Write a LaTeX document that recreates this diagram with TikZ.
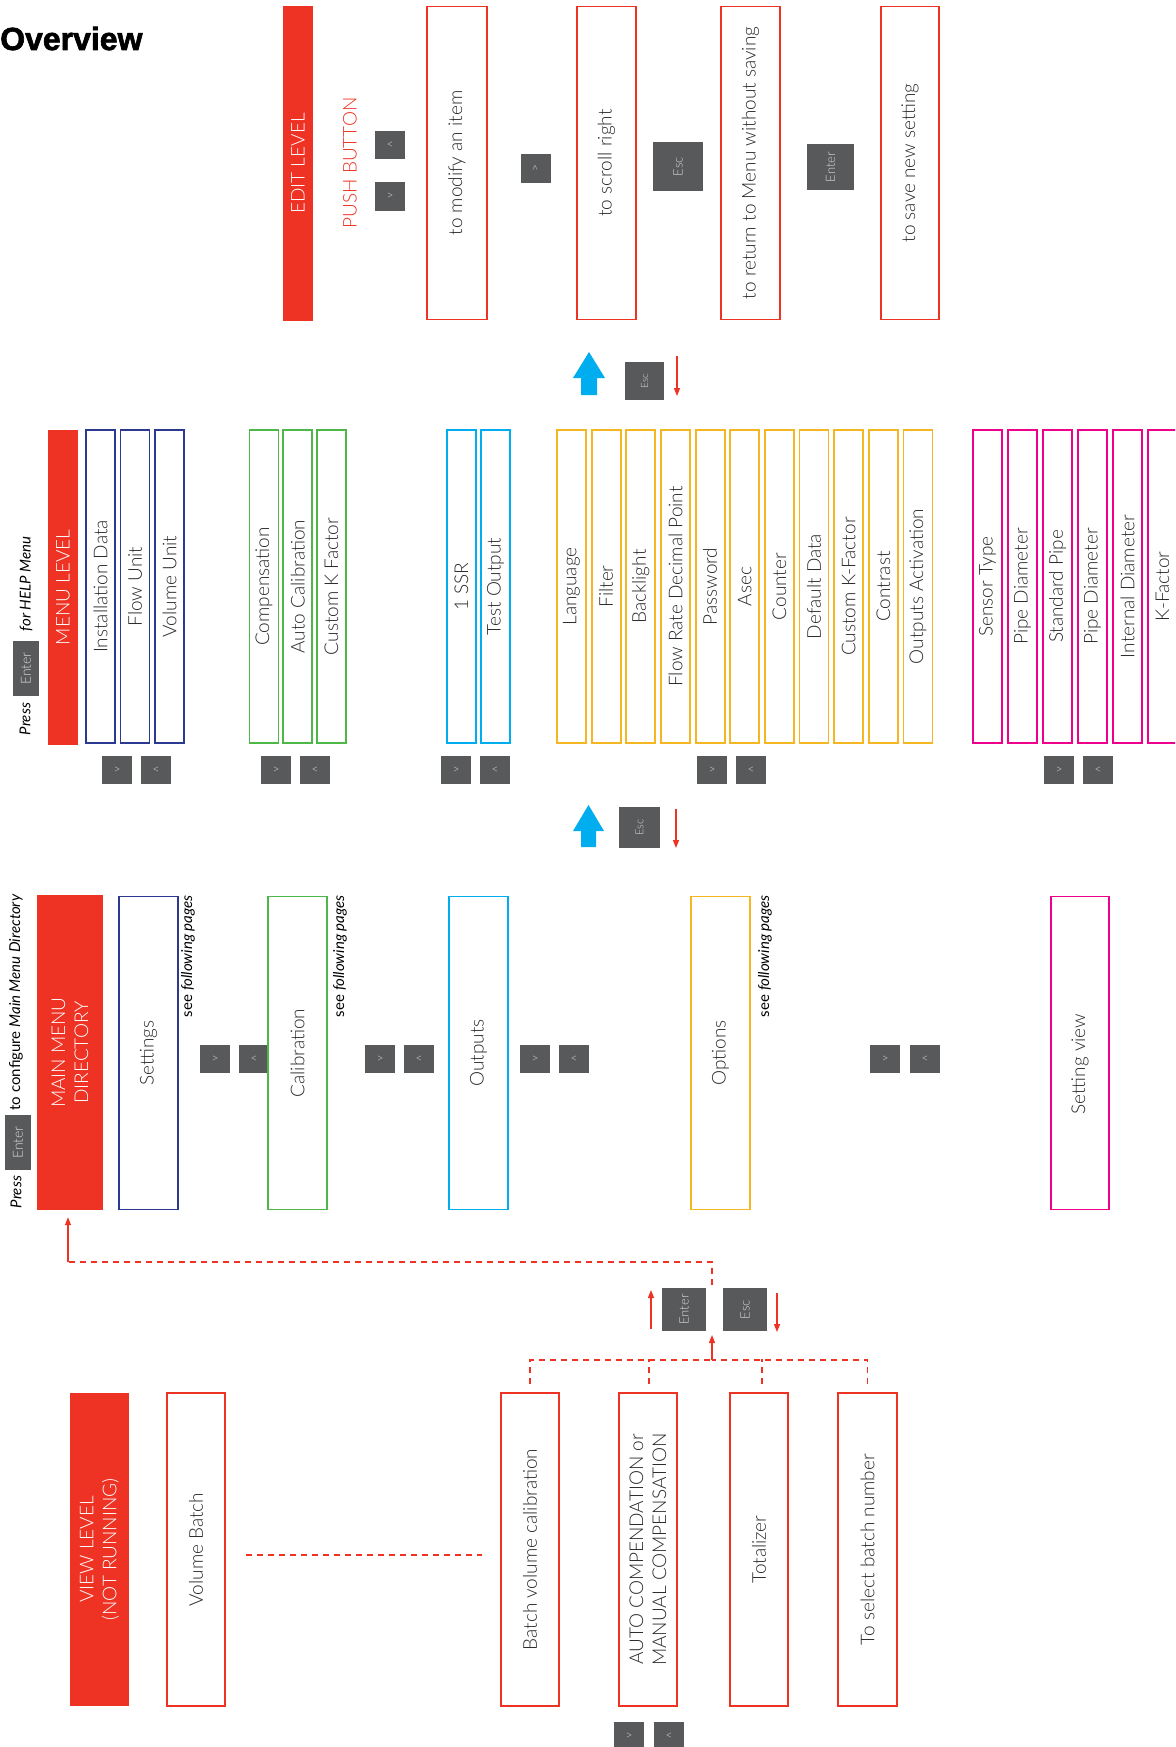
\documentclass[tikz,border=0pt]{standalone}
\usepackage{fontspec}
\setmainfont{Lato}[UprightFont=* Light, ItalicFont=* Light Italic, BoldFont=* Bold]
\newfontfamily\notefont{Lato}
\newfontfamily\heavy{Liberation Sans}[BoldFeatures={FakeBold=2}]
\usetikzlibrary{arrows.meta,calc}
\definecolor{myred}{RGB}{238,50,36}
\definecolor{eblue}{RGB}{43,57,144}
\definecolor{egreen}{RGB}{77,184,72}
\definecolor{ecyan}{RGB}{0,174,239}
\definecolor{eyellow}{RGB}{245,182,35}
\definecolor{emag}{RGB}{236,0,140}
\definecolor{btngray}{RGB}{88,89,91}
\definecolor{btntxt}{RGB}{215,215,215}
\definecolor{txt}{RGB}{40,40,40}
\tikzset{
  lbl/.style={font=\fontsize{19}{23}\selectfont, text=txt},
  vbox/.style={draw=#1, line width=1.8pt, rotate=90, inner sep=0pt, lbl, minimum width=313, minimum height=29},
  wbox/.style={vbox=#1, minimum height=59},
  redbar/.style={fill=myred, rotate=90, inner sep=0pt, font=\fontsize{19}{23}\selectfont, text=white, align=center},
  btn/.style={fill=btngray, inner sep=0pt, text=btntxt, minimum width=30, minimum height=28, font=\fontsize{12}{12}\selectfont},
  keybtn/.style={fill=btngray, inner sep=0pt, text=btntxt, rotate=90, font=\fontsize{13}{13}\selectfont},
  note/.style={rotate=90, inner sep=0pt, text=black, font=\notefont\fontsize{15}{18}\selectfont},
  redarr/.style={draw=myred, line width=1.3pt, -{Triangle[length=8pt,width=6pt]}},
  reddash/.style={draw=myred, line width=1.6pt, dash pattern=on 6pt off 5pt},
}
\begin{document}
\begin{tikzpicture}[x=1pt,y=-1pt]
\useasboundingbox (0,0) rectangle (1175,1747);
\clip (0,0) rectangle (1175,1747);

% title
\node[anchor=base west, inner sep=0pt, font=\heavy\bfseries\fontsize{32}{32}\selectfont] (title) at (0,50) {Overview};

% ---------------- EDIT LEVEL ----------------
\node[redbar, minimum width=315, minimum height=30] (edit) at (298,163.5) {EDIT LEVEL};
\node[rotate=90, inner sep=0pt, font=\fontsize{19}{23}\selectfont, text=myred] (push) at (350,163) {PUSH BUTTON};
\node[btn] (pbup) at (390,145.5) {<};
\node[btn] (pbdn) at (390,196.5) {>};
\node[wbox=myred, minimum height=60] (e1) at (457,163) {to modify an item};
\node[btn, rotate=90, minimum width=29, minimum height=30] (pbr) at (536,168.5) {>};
\node[wbox=myred] (e2) at (606.5,163) {to scroll right};
\node[keybtn, minimum width=49, minimum height=50] (esc1) at (678,166.5) {Esc};
\node[wbox=myred] (e3) at (750.5,163) {to return to Menu without saving};
\node[keybtn, minimum width=46, minimum height=47] (ent1) at (830.5,167) {Enter};
\node[wbox=myred, minimum height=58] (e4) at (910,163) {to save new setting};

% arrow row 1
\fill[ecyan] (581,395) -- (581,378) -- (573,378) -- (589,352) -- (605,378) -- (597,378) -- (597,395) -- cycle;
\node[keybtn, minimum width=38, minimum height=39, font=\fontsize{10}{10}\selectfont] (esc2) at (644.5,381) {Esc};
\coordinate (a1s) at (677,356);
\coordinate (a1e) at (677,396);
\draw[redarr] (a1s) -- (a1e);

% ---------------- MENU LEVEL ----------------
\node[note, font=\notefont\fontsize{15}{18}\itshape] (press1) at (25,719) {Press};
\node[keybtn, minimum width=55, minimum height=26, font=\fontsize{14}{14}\selectfont] (ent2) at (26,668.5) {Enter};
\node[note, font=\notefont\fontsize{15}{18}\itshape] (help) at (26,584) {for HELP Menu};
\node[redbar, minimum width=315, minimum height=30] (menu) at (63,587.5) {MENU LEVEL};

\foreach \t [count=\i from 0] in {Installation Data,Flow Unit,Volume Unit}
  \node[vbox=eblue] (s\i) at ({100.5+34.5*\i},586.5) {\t};
\node[btn] (sb1) at (117,770) {>};
\node[btn] (sb2) at (156,770) {<};

\foreach \t [count=\i from 0] in {Compensation,Auto Calibration,Custom K Factor}
  \node[vbox=egreen] (c\i) at ({264+33.75*\i},586.5) {\t};
\node[btn] (cb1) at (276,770) {>};
\node[btn] (cb2) at (315,770) {<};

\foreach \t [count=\i from 0] in {1 SSR,Test Output}
  \node[vbox=ecyan] (o\i) at ({461.5+34*\i},586.5) {\t};
\node[btn] (ob1) at (456,770) {>};
\node[btn] (ob2) at (495,770) {<};

\foreach \t [count=\i from 0] in {Language,Filter,Backlight,Flow Rate Decimal Point,Password,Asec,Counter,Default Data,Custom K-Factor,Contrast,Outputs Activation}
  \node[vbox=eyellow] (y\i) at ({571.5+34.65*\i},586.5) {\t};
\node[btn] (yb1) at (712,770) {>};
\node[btn] (yb2) at (751,770) {<};

\foreach \t [count=\i from 0] in {Sensor Type,Pipe Diameter,Standard Pipe,Pipe Diameter,Internal Diameter,K-Factor}
  \node[vbox=emag] (m\i) at ({987.5+35*\i},586.5) {\t};
\node[btn] (mb1) at (1059,770) {>};
\node[btn] (mb2) at (1098,770) {<};

% arrow row 2
\fill[ecyan] (581,847) -- (581,831) -- (573,831) -- (588.5,805) -- (604,831) -- (596,831) -- (596,847) -- cycle;
\node[keybtn, minimum width=41, minimum height=41, font=\fontsize{11}{11}\selectfont] (esc3) at (639.5,827.5) {Esc};
\coordinate (a2s) at (676,809);
\coordinate (a2e) at (676,848);
\draw[redarr] (a2s) -- (a2e);

% ---------------- MAIN MENU ----------------
\node[note, font=\notefont\fontsize{15}{18}\itshape] (press2) at (16,1192) {Press};
\node[keybtn, minimum width=55, minimum height=26, font=\fontsize{14}{14}\selectfont] (ent3) at (18,1142.5) {Enter};
\node[note] (conf) at (16,1002.5) {to configure \textit{Main Menu Directory}};
\node[redbar, minimum width=315, minimum height=66] (mainbar) at (70,1052.5) {MAIN MENU\\DIRECTORY};

\node[wbox=eblue] (settings) at (148.5,1053) {Settings};
\node[note, anchor=east] (sfp1) at (188,895) {see \textit{following pages}};
\node[btn] (mm1) at (215,1059) {>};
\node[btn] (mm2) at (254,1059) {<};
\node[wbox=egreen] (calib) at (297.5,1053) {Calibration};
\node[note, anchor=east] (sfp2) at (340,895) {see \textit{following pages}};
\node[btn] (mm3) at (380,1059) {>};
\node[btn] (mm4) at (419,1059) {<};
\node[wbox=ecyan] (outputs) at (478.5,1053) {Outputs};
\node[btn] (mm5) at (535,1059) {>};
\node[btn] (mm6) at (574,1059) {<};
\node[wbox=eyellow] (options) at (720.5,1053) {Options};
\node[note, anchor=east] (sfp3) at (765,895) {see \textit{following pages}};
\node[btn] (mm7) at (885,1059) {>};
\node[btn] (mm8) at (925,1059) {<};
\node[wbox=emag, minimum height=58] (setview) at (1080,1053) {Setting view\hspace*{22pt}};

% ---------------- VIEW LEVEL ----------------
\node[redbar, minimum width=313, minimum height=59] (view) at (99.5,1549.5) {VIEW LEVEL\\(NOT RUNNING)};
\node[wbox=myred, minimum height=58] (vbatch) at (196,1549.5) {Volume Batch};
\node[wbox=myred, minimum height=58] (bvc) at (530,1549.5) {Batch volume calibration};
\node[wbox=myred, minimum height=58, align=center] (acm) at (648,1549.5) {AUTO COMPENDATION or\\MANUAL COMPENSATION};
\node[wbox=myred, minimum height=58] (tot) at (759,1549.5) {Totalizer};
\node[wbox=myred, minimum height=59] (tsb) at (867.5,1549.5) {To select batch number};
\node[btn] (vb1) at (629,1736) {>};
\node[btn] (vb2) at (669,1736) {<};

\node[keybtn, minimum width=43, minimum height=44] (ent4) at (684,1309.5) {Enter};
\node[keybtn, minimum width=43, minimum height=44] (esc4) at (745,1309.5) {Esc};

% connectors
\coordinate (vd1) at (246,1555);
\coordinate (vd2) at (482,1555);
\draw[reddash] (vd1) -- (vd2);

\coordinate (jb) at (712,1360);
\coordinate (ja) at (712,1335);
\draw[reddash] ($(bvc.east)+(0,-8)$) |- (jb);
\draw[reddash] ($(tsb.east)+(0,-8)$) |- (jb);
\draw[reddash] ($(acm.east)+(1,-8)$) -- ($(acm.east)+(1,-33)$);
\draw[reddash] ($(tot.east)+(3,-8)$) -- ($(tot.east)+(3,-33)$);
\draw[redarr] (jb) -- (ja);

\coordinate (ea1) at (651,1329);
\coordinate (ea2) at (651,1290);
\draw[redarr] (ea1) -- (ea2);
\coordinate (ea3) at (777,1293);
\coordinate (ea4) at (777,1332);
\draw[redarr] (ea3) -- (ea4);

\coordinate (jt) at (712,1285);
\coordinate (jc) at (712,1262);
\coordinate (jm) at (68,1262);
\draw[reddash] (jt) -- (jc) -- (jm);
\draw[redarr, shorten >=7pt] (jm) -- (jm |- mainbar.west);
\end{tikzpicture}
\end{document}
